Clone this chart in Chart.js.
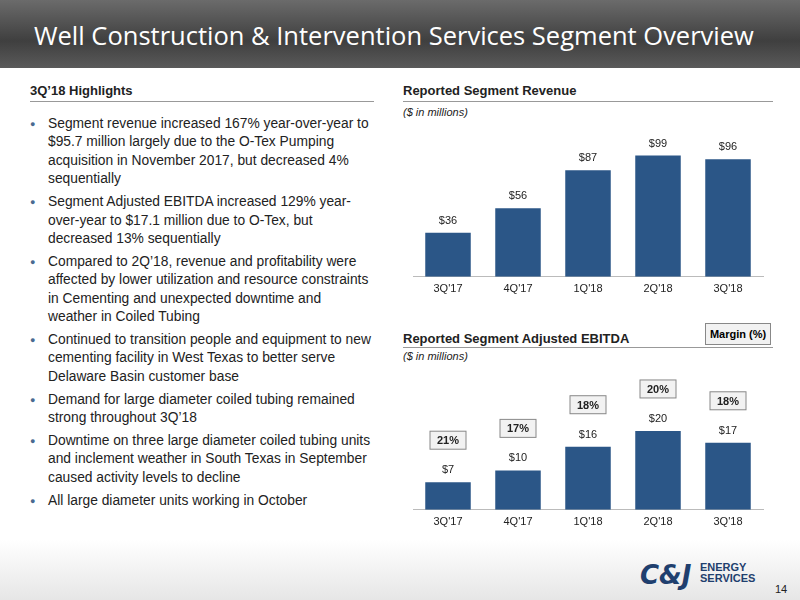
<!DOCTYPE html>
<html><head><meta charset="utf-8">
<script src="https://cdn.jsdelivr.net/npm/chart.js@4/dist/chart.umd.min.js"></script>
<style>
body{margin:0;width:800px;height:600px;position:relative;overflow:hidden;font-family:"Liberation Sans",Arial,sans-serif;background:#fff}
#title{position:absolute;left:0;top:0;width:800px;height:68px;background:linear-gradient(#6b6b6b,#3f3f3f 60%,#5a5a5a);}
#title span{position:absolute;left:34px;top:18px;color:#fff;font-family:"Open Sans",sans-serif;font-size:25.5px}
.hdr{position:absolute;font-weight:bold;font-size:13px;color:#222}
.rule{position:absolute;height:1px;background:#999}
.sub{position:absolute;font-style:italic;font-size:11px;color:#222}
ul{position:absolute;left:30px;top:115px;width:324px;margin:0;padding:0 0 0 18px;font-size:13.8px;line-height:18.4px;color:#222}
li{margin-bottom:4.5px;list-style:none;position:relative}
li:before{content:"●";position:absolute;left:-18px;font-size:9px;color:#4a6a90}
#foot{position:absolute;left:0;top:540px;width:800px;height:60px;background:linear-gradient(#fff,#e6e6e6)}
canvas{position:absolute}
</style></head><body>
<div id="title"><span>Well Construction &amp; Intervention Services Segment Overview</span></div>
<div class="hdr" style="left:30px;top:83px">3Q’18 Highlights</div>
<div class="rule" style="left:30px;top:101px;width:344px"></div>
<div class="hdr" style="left:403px;top:83px">Reported Segment Revenue</div>
<div class="rule" style="left:403px;top:101px;width:370px"></div>
<div class="sub" style="left:403px;top:106px">($ in millions)</div>
<div class="hdr" style="left:403px;top:331px">Reported Segment Adjusted EBITDA</div>
<div class="rule" style="left:403px;top:347px;width:370px"></div>
<div class="sub" style="left:403px;top:350px">($ in millions)</div>
<div style="position:absolute;left:705px;top:323px;width:64px;height:20px;border:1px solid #888;background:#f2f2f2;font-size:11px;font-weight:bold;text-align:center;line-height:20px">Margin (%)</div>
<ul>
<li>Segment revenue increased 167% year-over-year to $95.7 million largely due to the O-Tex Pumping acquisition in November 2017, but decreased 4% sequentially</li>
<li>Segment Adjusted EBITDA increased 129% year-over-year to $17.1 million due to O-Tex, but decreased 13% sequentially</li>
<li>Compared to 2Q’18, revenue and profitability were affected by lower utilization and resource constraints in Cementing and unexpected downtime and weather in Coiled Tubing</li>
<li>Continued to transition people and equipment to new cementing facility in West Texas to better serve Delaware Basin customer base</li>
<li>Demand for large diameter coiled tubing remained strong throughout 3Q’18</li>
<li>Downtime on three large diameter coiled tubing units and inclement weather in South Texas in September caused activity levels to decline</li>
<li>All large diameter units working in October</li>
</ul>
<canvas id="c1" style="left:403px;top:120px;width:370px;height:182px"></canvas>
<canvas id="c2" style="left:403px;top:360px;width:370px;height:175px"></canvas>
<div id="foot"></div>
<div style="position:absolute;left:640px;top:560px;font-family:'DejaVu Sans';font-weight:bold;font-size:26px;color:#1f3f6e;font-style:italic">C&amp;J</div>
<div style="position:absolute;left:700px;top:562px;font-weight:bold;font-size:11px;line-height:11px;color:#1f3f6e">ENERGY<br>SERVICES</div>
<div style="position:absolute;left:775px;top:583px;font-size:11px;color:#222">14</div>
<script>
const quarters=["3Q'17","4Q'17","1Q'18","2Q'18","3Q'18"];
const revenue=[36,56,87,99,96];
const ebitda=[7,10,16,20,17];
const margin=[21,17,18,20,18];
const blue="#2b5687";
const labels={id:"lbl",afterDatasetsDraw(c,a,o){const ctx=c.ctx;const m=c.getDatasetMeta(0);ctx.save();ctx.font="11px 'Liberation Sans',Arial";ctx.fillStyle="#222";ctx.textAlign="center";
m.data.forEach((b,i)=>{ctx.fillStyle="#222";ctx.fillText("$"+c.data.datasets[0].data[i],b.x,b.y-9);
if(o.margin){const y=b.y-42;ctx.fillStyle="#f2f2f2";ctx.strokeStyle="#888";ctx.fillRect(b.x-18,y-9,36,18);ctx.strokeRect(b.x-18,y-9,36,18);ctx.fillStyle="#222";ctx.font="bold 11px 'Liberation Sans',Arial";ctx.fillText(o.margin[i]+"%",b.x,y+4);ctx.font="11px 'Liberation Sans',Arial";}});ctx.restore();}};
function mk(id,data,max,mg){new Chart(document.getElementById(id),{type:"bar",data:{labels:quarters,datasets:[{data,backgroundColor:blue,categoryPercentage:0.65,barPercentage:1}]},
options:{responsive:false,animation:false,layout:{padding:{left:10,right:10}},plugins:{legend:{display:false},tooltip:{enabled:false},lbl:{margin:mg}},
scales:{x:{grid:{display:false,drawTicks:false},border:{color:"#bbb"},ticks:{color:"#222",font:{size:11},padding:6}},y:{display:false,min:0,max}}},plugins:[labels]});}
document.getElementById("c1").width=370;document.getElementById("c1").height=182;
document.getElementById("c2").width=370;document.getElementById("c2").height=175;
mk("c1",revenue,128,null);mk("c2",ebitda,38,margin);
</script></body></html>
